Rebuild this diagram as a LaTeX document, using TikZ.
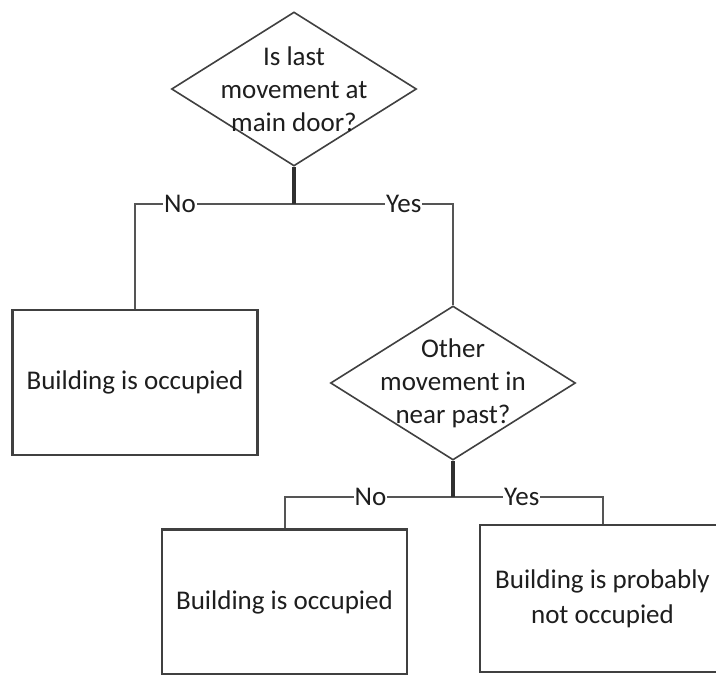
\documentclass[tikz,border=0pt]{standalone}
\usepackage{fontspec}
\setmainfont{Carlito}
\usetikzlibrary{shapes.geometric}
\definecolor{linegray}{HTML}{555555}
\definecolor{stemgray}{HTML}{303030}
\definecolor{boxgray}{HTML}{404040}
\definecolor{inkdark}{HTML}{1E1E1E}
\tikzset{
  txt/.style={font=\fontsize{27}{33}\selectfont, text=inkdark, align=center, inner sep=0pt},
  decision/.style={draw=boxgray, line width=1.6pt, diamond, inner sep=0pt,
    minimum width=245pt, minimum height=154pt, fill=white},
  outcome/.style={draw=boxgray, line width=2.4pt, rectangle, inner sep=0pt,
    minimum width=245pt, minimum height=145pt, fill=white,
    font=\fontsize{27}{35}\selectfont, text=inkdark, align=center},
  link/.style={draw=linegray, line width=2pt},
  stem/.style={draw=stemgray, line width=3.5pt},
  answer/.style={font=\fontsize{27}{30}\selectfont, text=inkdark, fill=white,
    inner xsep=1pt, inner ysep=0pt}
}
\begin{document}
\begin{tikzpicture}[x=1pt, y=-1pt]
  \useasboundingbox (0,0) rectangle (716,675);
  \clip (0,0) rectangle (716,675);

  % first decision
  \node[decision] (d1) at (294,89) {};
  \node[txt] (d1t) at (d1.center) {Is last\\movement at\\main door?};

  % outcome when the last movement was elsewhere
  \node[outcome] (b1) at (135,382.5) {Building is occupied};

  % second decision
  \node[decision] (d2) at (453,383) {};
  \node[txt] (d2t) at (d2.center) {Other\\movement in\\near past?};

  % final outcomes
  \node[outcome] (b2) at (284.5,602) {Building is occupied};
  \node[outcome, minimum height=147pt] (b3) at (602.5,598.5) {Building is probably\\not occupied};

  % branch points
  \coordinate (j1) at (294,204);
  \coordinate (l1) at (135,204);
  \coordinate (r1) at (453,204);
  \coordinate (j2) at (453,497);
  \coordinate (l2) at (284.5,497);
  \coordinate (r2) at (602.5,497);

  % connectors of the first decision
  \draw[link] (j1) -- node[answer, pos=0.717] (no1) {No} (l1) -- (b1.north);
  \draw[link] (j1) -- node[answer, pos=0.69] (yes1) {Yes} (r1) -- (d2.north);
  \draw[stem] (d1.south) -- (j1);

  % connectors of the second decision
  \draw[link] (j2) -- node[answer, pos=0.49] (no2) {No} (l2) -- (b2.north);
  \draw[link] (j2) -- node[answer, pos=0.46] (yes2) {Yes} (r2) -- (b3.north);
  \draw[stem] (d2.south) -- (j2);
\end{tikzpicture}
\end{document}
